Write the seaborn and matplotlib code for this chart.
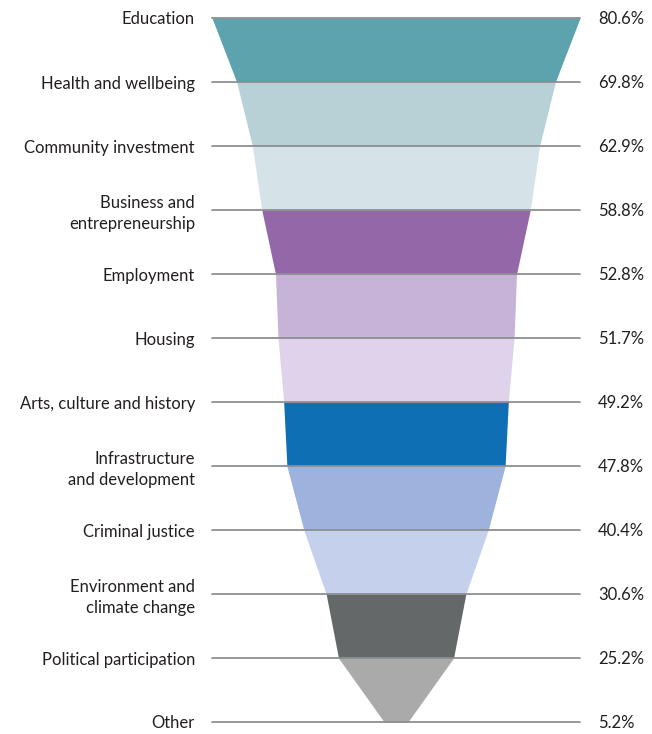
import matplotlib
matplotlib.use("Agg")
import matplotlib.pyplot as plt
import seaborn as sns
import numpy as np

# Share of respondents by issue area
categories = [
    "Education", "Health and wellbeing", "Community investment",
    "Business and\nentrepreneurship", "Employment", "Housing",
    "Arts, culture and history", "Infrastructure\nand development",
    "Criminal justice", "Environment and\nclimate change",
    "Political participation", "Other",
]
values = [80.6, 69.8, 62.9, 58.8, 52.8, 51.7, 49.2, 47.8, 40.4, 30.6, 25.2, 5.2]
band_colors = [
    "#5ca3ad", "#b7d1d6", "#d5e2e8", "#9468a8", "#c7b3d8", "#ded3ea",
    "#0f6fb5", "#9db2dc", "#c5d0ec", "#646868", "#aaaaaa",
]

sns.set_theme(style="white")
plt.rcParams["font.family"] = ["Lato", "DejaVu Sans"]

W, H = 652, 734
fig = plt.figure(figsize=(W / 100, H / 100), dpi=100)
ax = fig.add_axes([0, 0, 1, 1])

px_per_unit = 368 / values[0]
cx, top, step = 396, 18, 64
ax.set_xlim(-cx / px_per_unit, (W - cx) / px_per_unit)
ax.set_ylim((H - top) / step, -top / step)
ax.axis("off")

n = len(values)
y = np.arange(n)
half = np.array(values) / 2

# Funnel bands between consecutive levels
for i in range(n - 1):
    yy = [y[i], y[i + 1]]
    ax.fill_betweenx(yy, [-half[i], -half[i + 1]], [half[i], half[i + 1]],
                     color=band_colors[i], linewidth=0, zorder=1)

text_kw = dict(fontsize=12, color="#231f20", va="baseline")
edge = half[0]
for i in range(n):
    ax.plot([-edge, edge], [y[i], y[i]], color="#8c8f91", lw=1.3, zorder=2)
    lines = categories[i].split("\n")
    if len(lines) == 1:
        offsets = [6.5]
    else:
        offsets = [-2.5, 19.5]
    for line, off in zip(lines, offsets):
        ax.text(-edge - 17 / px_per_unit, y[i] + off / step, line, ha="right", **text_kw)
    ax.text(edge + 18 / px_per_unit, y[i] + 6.5 / step, f"{values[i]:.1f}%",
            ha="left", **text_kw)

fig.savefig("out.png", dpi=100)
